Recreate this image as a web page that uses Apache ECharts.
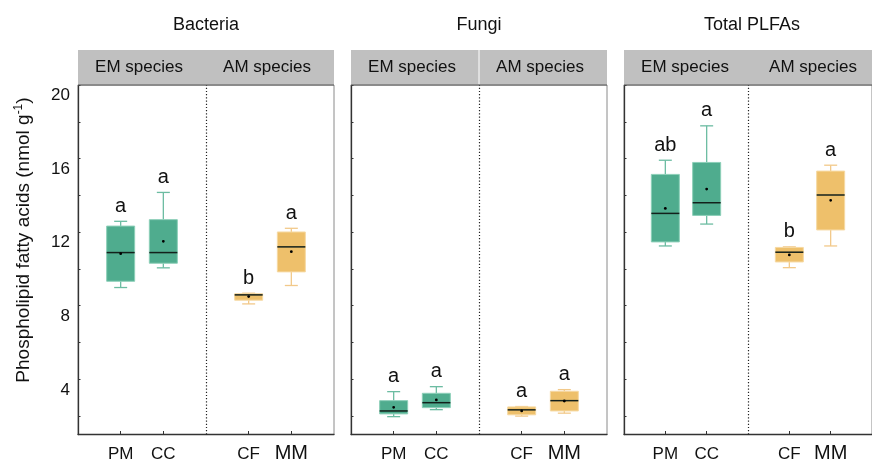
<!DOCTYPE html>
<html><head><meta charset="utf-8">
<script src="https://cdn.jsdelivr.net/npm/echarts@6/dist/echarts.min.js"></script>
<style>html,body{margin:0;padding:0;background:#fff}#c{width:872px;height:463px}</style>
</head><body><div id="c"></div>
<script>
// ---------------- data ----------------
const categories = ['PM', 'CC', 'CF', 'MM'];
const catPositions = [1, 2, 4, 5];
const groupNames = ['EM species', 'AM species'];
const panelTitles = ['Bacteria', 'Fungi', 'Total PLFAs'];
const yTickLabels = [4, 8, 12, 16, 20];
const yTicks = [2, 4, 6, 8, 10, 12, 14, 16, 18, 20];
// each row: [lower whisker, Q1, median, Q3, upper whisker]
const bacteriaBox = [[8.99, 9.33, 10.89, 12.33, 12.59], [10.06, 10.31, 10.89, 12.68, 14.16], [8.10, 8.30, 8.59, 8.65, 8.68], [9.10, 9.84, 11.20, 12.01, 12.21]];
const bacteriaMean = [10.83, 11.50, 8.50, 10.94];
const bacteriaLetters = ['a', 'a', 'b', 'a'];
const fungiBox = [[1.97, 2.12, 2.28, 2.84, 3.33], [2.35, 2.46, 2.73, 3.24, 3.60], [2.00, 2.07, 2.34, 2.50, 2.52], [2.16, 2.28, 2.84, 3.35, 3.44]];
const fungiMean = [2.48, 2.88, 2.28, 2.82];
const fungiLetters = ['a', 'a', 'a', 'a'];
const totalBox = [[11.25, 11.47, 13.02, 15.14, 15.91], [12.44, 12.91, 13.60, 15.79, 17.78], [10.07, 10.38, 10.91, 11.17, 11.20], [11.25, 12.12, 14.02, 15.32, 15.64]];
const totalMean = [13.29, 14.34, 10.76, 13.73];
const totalLetters = ['ab', 'a', 'b', 'a'];

// ---------------- layout / style ----------------
const FONT = 'Liberation Sans, Arial, sans-serif';
const PANEL_LEFT = [78, 351, 624];
const PANEL_W = 256;
const PLOT_TOP = 85, PLOT_H = 350;
const HEAD_TOP = 50;
const EM_FILL = '#4fac8e', EM_EDGE = '#8ccfb8', EM_WHISK = '#6cbca2';
const AM_FILL = '#eec06b', AM_EDGE = '#f6d9a3', AM_WHISK = '#f2c98a';

const panels = [
  { box: bacteriaBox, mean: bacteriaMean, letters: bacteriaLetters },
  { box: fungiBox, mean: fungiMean, letters: fungiLetters },
  { box: totalBox, mean: totalMean, letters: totalLetters }
];

function makeRender(letters) {
  return function (params, api) {
    const x = api.value(0);
    const pLo = api.coord([x, api.value(1)]);
    const pQ1 = api.coord([x, api.value(2)]);
    const pMed = api.coord([x, api.value(3)]);
    const pQ3 = api.coord([x, api.value(4)]);
    const pHi = api.coord([x, api.value(5)]);
    const pMean = api.coord([x, api.value(6)]);
    const cx = pLo[0];
    const bw = 28, cw = 13;
    const em = params.dataIndex < 2;
    const fill = em ? EM_FILL : AM_FILL;
    const edge = em ? EM_EDGE : AM_EDGE;
    const wk = em ? EM_WHISK : AM_WHISK;
    const ls = { stroke: wk, lineWidth: 1.3 };
    return {
      type: 'group',
      children: [
        { type: 'line', shape: { x1: cx, y1: pQ3[1], x2: cx, y2: pHi[1] }, style: ls },
        { type: 'line', shape: { x1: cx, y1: pQ1[1], x2: cx, y2: pLo[1] }, style: ls },
        { type: 'line', shape: { x1: cx - cw / 2, y1: pHi[1], x2: cx + cw / 2, y2: pHi[1] }, style: ls },
        { type: 'line', shape: { x1: cx - cw / 2, y1: pLo[1], x2: cx + cw / 2, y2: pLo[1] }, style: ls },
        { type: 'rect', shape: { x: cx - bw / 2, y: pQ3[1], width: bw, height: Math.max(pQ1[1] - pQ3[1], 1) },
          style: { fill: fill, stroke: edge, lineWidth: 1 } },
        { type: 'line', shape: { x1: cx - bw / 2, y1: pMed[1], x2: cx + bw / 2, y2: pMed[1] },
          style: { stroke: '#13201b', lineWidth: 1.5 } },
        { type: 'circle', shape: { cx: cx, cy: pMean[1], r: 1.4 }, style: { fill: '#000' } },
        { type: 'text', x: cx, y: pHi[1] - 5,
          style: { text: letters[params.dataIndex], font: '20px ' + FONT, fill: '#111', align: 'center', verticalAlign: 'bottom' } }
      ]
    };
  };
}

const grids = [], xAxes = [], yAxes = [], series = [], titles = [], graphics = [];
panels.forEach((p, i) => {
  grids.push({ left: PANEL_LEFT[i], top: PLOT_TOP, width: PANEL_W, height: PLOT_H,
    show: true, borderColor: '#8a8a8a', borderWidth: 1, containLabel: false });
  xAxes.push({
    type: 'value', gridIndex: i, min: 0, max: 6, splitLine: { show: false },
    axisLine: { show: true, onZero: false, lineStyle: { color: '#333', width: 1.3 } },
    axisTick: { show: true, inside: true, length: 3.5, customValues: catPositions, lineStyle: { color: '#333' } },
    axisLabel: {
      show: true, margin: 11, customValues: catPositions, color: '#111', fontSize: 17, fontFamily: FONT,
      formatter: v => { const n = categories[catPositions.indexOf(v)]; return n === 'MM' ? '{big|' + n + '}' : n; },
      rich: { big: { fontSize: 20, fontFamily: FONT, color: '#111', lineHeight: 15 } }
    }
  });
  yAxes.push({
    type: 'value', gridIndex: i, min: 1, max: 20, splitLine: { show: false },
    axisLine: { show: true, onZero: false, lineStyle: { color: '#333', width: 1.3 } },
    axisTick: { show: true, inside: true, length: 2.5, customValues: yTicks, lineStyle: { color: '#333' } },
    axisLabel: { show: i === 0, customValues: yTickLabels, margin: 8, color: '#111', fontSize: 17, fontFamily: FONT,
      verticalAlign: 'top', padding: [2, 0, 0, 0] }
  });
  const data = p.box.map((b, k) => [catPositions[k], b[0], b[1], b[2], b[3], b[4], p.mean[k]]);
  series.push({
    type: 'custom', xAxisIndex: i, yAxisIndex: i, data: data, renderItem: makeRender(p.letters),
    encode: { x: 0, y: [1, 2, 3, 4, 5] }, clip: false, silent: true,
    markLine: { silent: true, symbol: 'none', label: { show: false },
      lineStyle: { type: [1.2, 2], color: '#222', width: 1.2 }, data: [{ xAxis: 3 }] }
  });
  const left = PANEL_LEFT[i];
  const mid = left + PANEL_W / 2;
  titles.push({ text: panelTitles[i], left: mid, top: 16, padding: 0, textAlign: 'center',
    textStyle: { fontSize: 18, fontWeight: 'normal', color: '#111', fontFamily: FONT } });
  graphics.push({ type: 'rect', shape: { x: left, y: HEAD_TOP, width: PANEL_W, height: PLOT_TOP - HEAD_TOP }, style: { fill: '#c0c0c0' }, z: 10 });
  graphics.push({ type: 'line', shape: { x1: left, y1: PLOT_TOP, x2: left + PANEL_W, y2: PLOT_TOP }, style: { stroke: '#555', lineWidth: 1.2 }, z: 11 });
  if (i === 1) {
    graphics.push({ type: 'line', shape: { x1: mid, y1: HEAD_TOP, x2: mid, y2: PLOT_TOP - 1 }, style: { stroke: '#fff', lineWidth: 1 }, z: 11 });
  }
  groupNames.forEach((g, k) => {
    graphics.push({ type: 'text', x: left + PANEL_W / 4 * (2 * k + 1) - 3, y: (HEAD_TOP + PLOT_TOP) / 2,
      style: { text: g, font: '17px ' + FONT, fill: '#111', align: 'center', verticalAlign: 'middle' }, z: 12 });
  });
});

graphics.push({ type: 'text', x: 24, y: 240, rotation: Math.PI / 2,
  style: { text: 'Phospholipid fatty acids (nmol g{sup|-1})', font: '19px ' + FONT, fill: '#111',
    align: 'center', verticalAlign: 'middle',
    rich: { sup: { fontSize: 12, fontFamily: FONT, verticalAlign: 'top', padding: [0, 0, 10, 0] } } }, z: 12 });

const chart = echarts.init(document.getElementById('c'), null, { renderer: 'canvas' });
chart.setOption({
  animation: false, backgroundColor: '#fff',
  title: titles, grid: grids, xAxis: xAxes, yAxis: yAxes, series: series, graphic: graphics
});
</script></body></html>
